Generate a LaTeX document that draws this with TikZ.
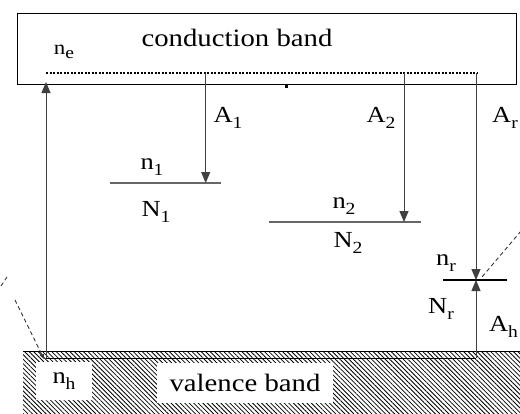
\documentclass[tikz,border=0pt]{standalone}
\usepackage{fontspec}
\setmainfont{Liberation Serif}[FakeStretch=1.15]
\usetikzlibrary{arrows.meta,patterns.meta}
\newcommand{\lsub}[1]{\raisebox{-0.5ex}{\fontsize{17}{17}\selectfont #1}}
\begin{document}
\begin{tikzpicture}[x=1pt,y=-1pt,
  lab/.style={inner sep=0pt, font=\fontsize{23}{27}\selectfont},
  bandtxt/.style={inner sep=0pt, font=\fontsize{25}{29}\selectfont},
  tr/.style={line width=1pt, draw=black!75},
  arr/.style={-{Triangle[length=11pt,width=9pt]}},
  lvl/.style={line width=1.1pt, draw=black!60},
  photon/.style={dashed, dash pattern=on 4pt off 3pt, line width=0.9pt, draw=black!80}
]
\useasboundingbox (0,0) rectangle (520,413);
% conduction band
\node[draw, line width=1pt, minimum width=499pt, minimum height=71pt, inner sep=0pt] (cb) at (266.5,48.5) {};
\node[bandtxt] (cbt) at (237,38) {conduction band};
\node[lab, font=\fontsize{20}{22}\selectfont] (ne) at (64,52) {n\lsub{e}};
% valence band
\fill[pattern={Lines[angle=-45,distance=3.2pt,line width=0.8pt]}] (23,351) rectangle (522,415);
\coordinate (vbl) at (23,351);
\coordinate (vbr) at (520,351);
\draw[line width=0.9pt] (vbl) -- (vbr);
\node[lab, fill=white, minimum width=56pt, minimum height=38pt] (nh) at (64,381) {n\lsub{h}};
\node[bandtxt, fill=white, minimum width=176pt, minimum height=40pt] (vbt) at (245,383) {valence band};
% reference lines
\coordinate (te) at (46,73);
\coordinate (tr0) at (477,73);
\coordinate (he) at (46,358);
\coordinate (hr) at (476,358);
\draw[line width=1.3pt, dash pattern=on 2pt off 1.5pt] (te) -- (tr0);
\draw[line width=0.9pt] (he) -- (hr);
% levels
\coordinate (l1a) at (110,183); \coordinate (l1b) at (221,183);
\coordinate (l2a) at (269,222); \coordinate (l2b) at (421,222);
\coordinate (lra) at (443,280); \coordinate (lrb) at (507,280);
\draw[lvl] (l1a) -- (l1b);
\draw[lvl] (l2a) -- (l2b);
\draw[line width=1.1pt] (lra) -- (lrb);
% transitions
\coordinate (s1) at (205.7,73); \coordinate (e1) at (205.7,183);
\coordinate (s2) at (404,73); \coordinate (e2) at (404,222);
\coordinate (sr) at (476,73); \coordinate (er) at (476,280);
\coordinate (cbb) at (46,82);
\draw[tr, arr] (s1) -- (e1);
\draw[tr, arr] (s2) -- (e2);
\draw[tr, arr] (sr) -- (er);
\draw[tr, arr] (hr) -- (er);
\draw[tr, arr] (he) -- (cbb);
% labels
\node[lab] (a1) at (228,118) {A\lsub{1}};
\node[lab] (a2) at (381,118) {A\lsub{2}};
\node[lab] (ar) at (505,118) {A\lsub{r}};
\node[lab] (n1) at (152,167) {n\lsub{1}};
\node[lab] (N1) at (156,212) {N\lsub{1}};
\node[lab] (n2) at (344,206) {n\lsub{2}};
\node[lab] (N2) at (348,243) {N\lsub{2}};
\node[lab] (nr) at (446,263) {n\lsub{r}};
\node[lab] (Nr) at (441,309) {N\lsub{r}};
\node[lab] (ah) at (503.5,327) {A\lsub{h}};
% photons
\coordinate (p1a) at (1,286); \coordinate (p1b) at (7,277);
\coordinate (p2a) at (15,300); \coordinate (p2b) at (44,359);
\coordinate (p3a) at (521,231); \coordinate (p3b) at (482,277);
\draw[photon] (p1a) -- (p1b);
\draw[photon, -{Triangle[length=5pt,width=4pt]}] (p2a) -- (p2b);
\draw[photon] (p3a) -- (p3b);
% small mark
\fill (285,85) rectangle (287.5,87.5);
\end{tikzpicture}
\end{document}
